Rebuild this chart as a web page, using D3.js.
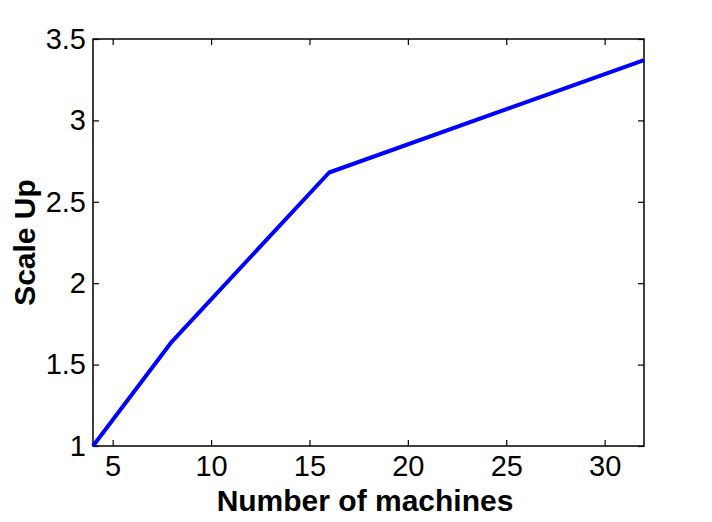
<!DOCTYPE html>
<html>
<head>
<meta charset="utf-8">
<script src="https://cdn.jsdelivr.net/npm/d3@7"></script>
<style>
  body { margin: 0; background: #fff; }
  svg { display: block; }
  .tick text { font-family: "Liberation Sans", Arial, sans-serif; font-size: 29px; fill: #000; }
  .aText { font-family: "Liberation Sans", Arial, sans-serif; font-size: 30px; font-weight: bold; fill: #000; }
</style>
</head>
<body>
<div id="chart"></div>
<script>
// data
var machines = [4, 8, 16, 32];
var scaleUp = [1, 1.64, 2.68, 3.37];
var xTicks = [5, 10, 15, 20, 25, 30];
var yTicks = [1, 1.5, 2, 2.5, 3, 3.5];

var width = 712;
var height = 522;
// plot box edges
var boxL = 93, boxR = 644, boxT = 39, boxB = 446;

var svg = d3.select("#chart")
  .append("svg")
  .attr("width", width)
  .attr("height", height);

var xScale = d3.scaleLinear().domain([4, 32]).range([boxL, boxR]);
var yScale = d3.scaleLinear().domain([1, 3.5]).range([boxB, boxT]);

// box
svg.append("rect")
  .attr("x", boxL)
  .attr("y", boxT)
  .attr("width", boxR - boxL)
  .attr("height", boxB - boxT)
  .attr("fill", "none")
  .attr("stroke", "#000")
  .attr("stroke-width", 1.5);

// axes, ticks pointing inward
svg.append("g")
  .attr("class", "xAxis")
  .attr("transform", "translate(0," + boxB + ")")
  .call(d3.axisBottom(xScale).tickValues(xTicks).tickSizeInner(-6).tickSizeOuter(0).tickPadding(9))
  .call(function(g) { g.select(".domain").remove(); });

svg.append("g")
  .attr("transform", "translate(0," + boxT + ")")
  .call(d3.axisTop(xScale).tickValues(xTicks).tickSizeInner(-6).tickSizeOuter(0).tickFormat(""))
  .call(function(g) { g.select(".domain").remove(); });

svg.append("g")
  .attr("class", "yAxis")
  .attr("transform", "translate(" + boxL + ",0)")
  .call(d3.axisLeft(yScale).tickValues(yTicks).tickSizeInner(-6).tickSizeOuter(0).tickPadding(7).tickFormat(d3.format("")))
  .call(function(g) { g.select(".domain").remove(); });

svg.append("g")
  .attr("transform", "translate(" + boxR + ",0)")
  .call(d3.axisRight(yScale).tickValues(yTicks).tickSizeInner(-6).tickSizeOuter(0).tickFormat(""))
  .call(function(g) { g.select(".domain").remove(); });

svg.selectAll(".tick line").attr("stroke", "#000").attr("stroke-width", 1.2);

// the line
var line = d3.line()
  .x(function(d, i) { return xScale(machines[i]); })
  .y(function(d) { return yScale(d); });

svg.append("path")
  .datum(scaleUp)
  .attr("d", line)
  .attr("fill", "none")
  .attr("stroke", "#0000ff")
  .attr("stroke-width", 4)
  .attr("stroke-linejoin", "round");

// labels
svg.append("text")
  .attr("class", "aText")
  .attr("x", 365)
  .attr("y", 511)
  .attr("text-anchor", "middle")
  .text("Number of machines");

svg.append("text")
  .attr("class", "aText")
  .attr("transform", "translate(35," + ((boxT + boxB) / 2) + ")rotate(-90)")
  .attr("text-anchor", "middle")
  .text("Scale Up");
</script>
</body>
</html>
